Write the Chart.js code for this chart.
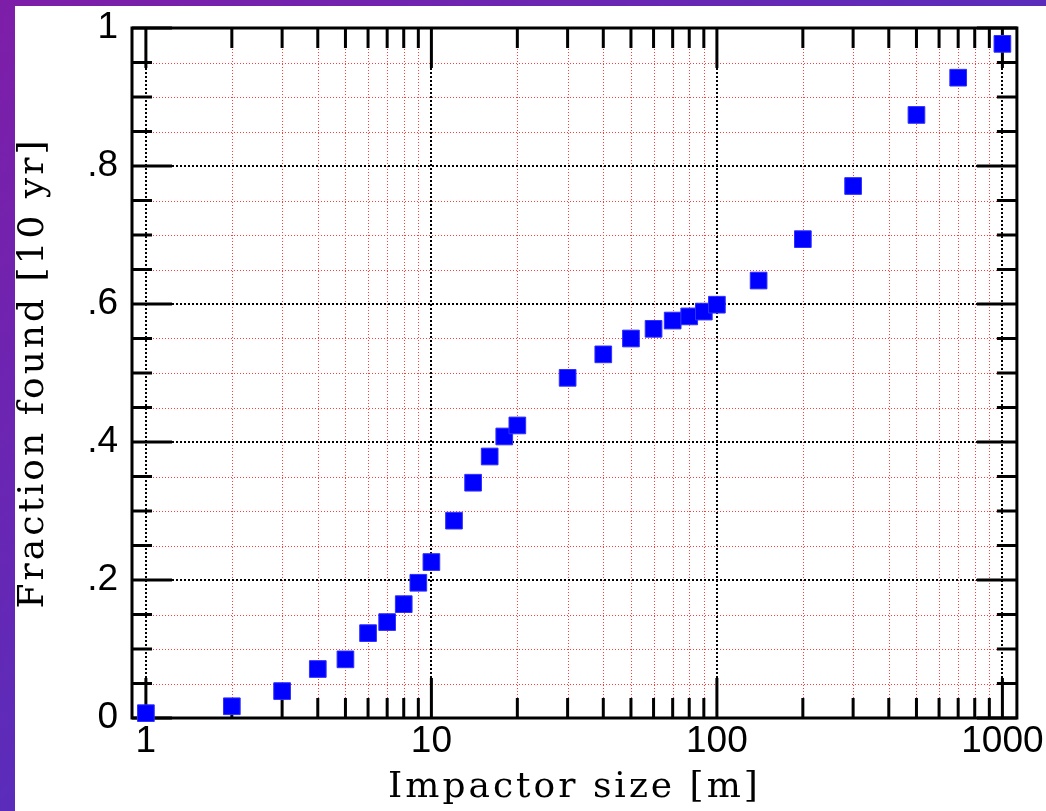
<!DOCTYPE html>
<html><head><meta charset="utf-8">
<script src="https://cdn.jsdelivr.net/npm/chart.js@4.4.0/dist/chart.umd.min.js"></script>
<style>
html,body{margin:0;padding:0;width:1046px;height:811px;overflow:hidden;}
body{background:linear-gradient(to bottom right,#7e1ea8 0%,#5b2cba 50%,#4a38c2 100%);position:relative;}
#panel{position:absolute;left:15px;top:6px;right:0;bottom:0;background:#fff;}
#c{position:absolute;left:0;top:0;}
</style></head><body>
<div id="panel"></div>
<canvas id="c" width="1046" height="811"></canvas>
<script>
const impactorSize = [1,2,3,4,5,6,7,8,9,10,12,14,16,18,20,30,40,50,60,70,80,90,100,140,200,300,500,700,1000];
const fractionFound = [0.007,0.017,0.039,0.071,0.085,0.123,0.139,0.165,0.196,0.226,0.286,0.341,0.379,0.408,0.424,0.493,0.527,0.550,0.564,0.576,0.582,0.589,0.599,0.634,0.694,0.771,0.874,0.928,0.977];

const xMajorTicks = [1,10,100,1000];
const xMajorLabels = ['1','10','100','1000'];
const xMinorTicks = [2,3,4,5,6,7,8,9,20,30,40,50,60,70,80,90,200,300,400,500,600,700,800,900];
const yMajorTicks = [0,0.2,0.4,0.6,0.8,1];
const yMajorLabels = ['0','.2','.4','.6','.8','1'];
const yMinorTicks = [0.05,0.1,0.15,0.25,0.3,0.35,0.45,0.5,0.55,0.65,0.7,0.75,0.85,0.9,0.95];

const xTitle = 'Impactor size [m]';
const yTitle = 'Fraction found [10 yr]';

function spacedTitle(s){
  if (s._spaced) return;
  const orig = s.drawTitle.bind(s);
  s.drawTitle = function(){
    const c = this.ctx; const prev = c.letterSpacing;
    c.letterSpacing = '3px'; orig(); c.letterSpacing = prev;
  };
  s._spaced = true;
}

const framePlugin = {
  id: 'frame',
  beforeDatasetsDraw(chart){
    const {ctx, chartArea:{left,right,top,bottom}, scales:{x,y}} = chart;
    ctx.save();
    ctx.strokeStyle = '#ff3b3b'; ctx.lineWidth = 1; ctx.setLineDash([1,2]);
    ctx.beginPath();
    xMinorTicks.forEach(v => { const p = Math.round(x.getPixelForValue(v))+0.5; ctx.moveTo(p,top); ctx.lineTo(p,bottom); });
    yMinorTicks.forEach(v => { const p = Math.round(y.getPixelForValue(v))+0.5; ctx.moveTo(left,p); ctx.lineTo(right,p); });
    ctx.stroke();
    ctx.strokeStyle = '#000'; ctx.lineWidth = 2; ctx.setLineDash([2,2]);
    ctx.beginPath();
    xMajorTicks.forEach(v => { const p = Math.round(x.getPixelForValue(v)); ctx.moveTo(p,top); ctx.lineTo(p,bottom); });
    yMajorTicks.forEach(v => { const p = Math.round(y.getPixelForValue(v)); ctx.moveTo(left,p); ctx.lineTo(right,p); });
    ctx.stroke();
    ctx.setLineDash([]); ctx.lineWidth = 3; ctx.strokeStyle = '#000';
    ctx.beginPath();
    xMajorTicks.concat(xMinorTicks).forEach(v => {
      const p = x.getPixelForValue(v); const len = xMajorTicks.includes(v) ? 40 : 20;
      ctx.moveTo(p,bottom); ctx.lineTo(p,bottom-len);
      ctx.moveTo(p,top); ctx.lineTo(p,top+len);
    });
    yMajorTicks.concat(yMinorTicks).forEach(v => {
      const p = y.getPixelForValue(v); const len = yMajorTicks.includes(v) ? 40 : 20;
      ctx.moveTo(left,p); ctx.lineTo(left+len,p);
      ctx.moveTo(right,p); ctx.lineTo(right-len,p);
    });
    ctx.stroke();
    ctx.lineWidth = 3;
    ctx.strokeRect(left, top, right-left, bottom-top);
    ctx.restore();
  }
};

new Chart(document.getElementById('c'), {
  type: 'scatter',
  data: {
    datasets: [{
      data: impactorSize.map((v,i) => ({x: v, y: fractionFound[i]})),
      pointStyle: 'rect',
      pointRadius: 11.8,
      pointHoverRadius: 11.8,
      backgroundColor: '#0000ff',
      borderColor: '#3030ff',
      borderWidth: 1,
      clip: false
    }]
  },
  options: {
    responsive: false,
    animation: false,
    events: [],
    layout: {padding: {top: 28, right: 27, left: 0, bottom: 0}},
    plugins: {legend: {display: false}, tooltip: {enabled: false}},
    scales: {
      x: {
        type: 'logarithmic', position: 'bottom', min: 0.894, max: 1124,
        afterBuildTicks: s => { s.ticks = xMajorTicks.map(v => ({value: v})); },
        afterFit: s => { s.height = 93; spacedTitle(s); },
        grid: {display: false, drawTicks: false},
        border: {display: false},
        ticks: {
          autoSkip: false, minRotation: 0, maxRotation: 0, padding: 2, color: '#000',
          font: {family: 'Liberation Sans', size: 37},
          callback: v => { const i = xMajorTicks.indexOf(v); return i >= 0 ? xMajorLabels[i] : ''; }
        },
        title: {display: true, text: xTitle, color: '#000',
          font: {family: 'DejaVu Serif', size: 36, lineHeight: 1}, padding: {top: 0, bottom: 5}}
      },
      y: {
        type: 'linear', position: 'left', min: 0, max: 1,
        afterBuildTicks: s => { s.ticks = yMajorTicks.map(v => ({value: v})); },
        afterFit: s => { s.width = 132; spacedTitle(s); },
        grid: {display: false, drawTicks: false},
        border: {display: false},
        ticks: {
          autoSkip: false, padding: 14, color: '#000',
          font: {family: 'Liberation Sans', size: 37, lineHeight: 0.7},
          callback: v => { const i = yMajorTicks.indexOf(v); return i >= 0 ? yMajorLabels[i] : ''; }
        },
        title: {display: true, text: yTitle, color: '#000',
          font: {family: 'DejaVu Serif', size: 36, lineHeight: 1}, padding: {top: 16, bottom: 0}}
      }
    }
  },
  plugins: [framePlugin]
});
</script>
</body></html>
